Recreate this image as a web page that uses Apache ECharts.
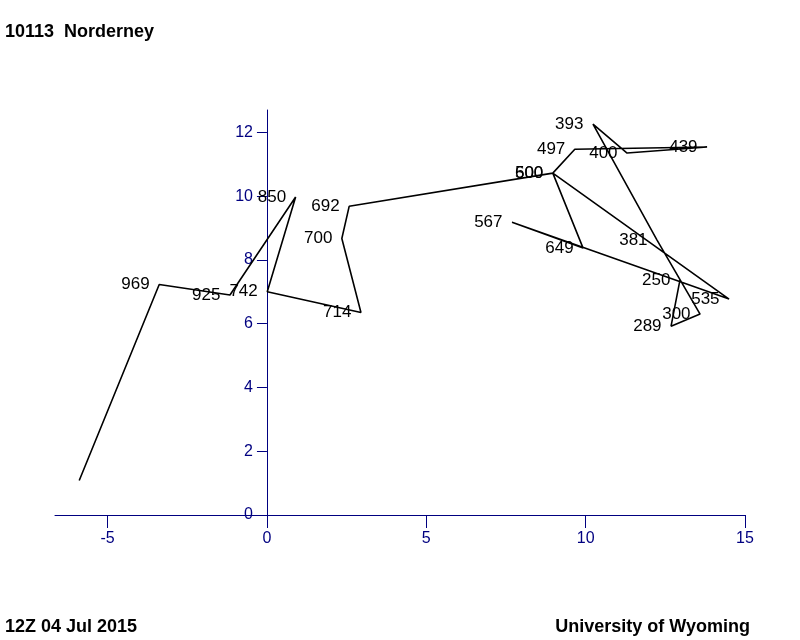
<!DOCTYPE html>
<html>
<head>
<meta charset="utf-8">
<script src="https://cdn.jsdelivr.net/npm/echarts@6/dist/echarts.min.js"></script>
<style>html,body{margin:0;padding:0;background:#fff}#c{width:800px;height:640px}</style>
</head>
<body>
<div id="c"></div>
<script>
// Hodograph points in path order (u, v in m/s) and their pressure labels
var pressureLabels = ['', '969', '925', '850', '742', '714', '700', '692', '600', '649', '567', '535', '500', '497', '439', '400', '393', '381', '300', '289', '250'];
var uValues = [-5.89, -3.38, -1.16, 0.90, 0.01, 2.95, 2.35, 2.58, 8.97, 9.92, 7.69, 14.50, 8.97, 9.66, 13.81, 11.30, 10.23, 12.24, 13.59, 12.68, 12.96];
var vValues = [1.08, 7.23, 6.90, 9.97, 7.00, 6.35, 8.67, 9.68, 10.72, 8.37, 9.18, 6.77, 10.72, 11.47, 11.54, 11.35, 12.26, 8.62, 6.30, 5.92, 7.37];
var xTicks = [-5, 0, 5, 10, 15];
var yTicks = [0, 2, 4, 6, 8, 10, 12];

var data = [];
for (var i = 0; i < uValues.length; i++) {
  data.push([uValues[i], vValues[i], pressureLabels[i]]);
}

var navy = '#000080';
var font = 'Liberation Sans, Arial, Helvetica, sans-serif';
var gridLeft = 55;
var chart = echarts.init(document.getElementById('c'), null, {renderer: 'canvas'});
chart.setOption({
  animation: false,
  backgroundColor: '#ffffff',
  title: [
    {text: '10113  Norderney', left: 5, top: 23, padding: 0, textStyle: {fontFamily: font, fontSize: 18, fontWeight: 'bold', color: '#000'}},
    {text: '12Z 04 Jul 2015', left: 5, top: 618, padding: 0, textStyle: {fontFamily: font, fontSize: 18, fontWeight: 'bold', color: '#000'}},
    {text: 'University of Wyoming', right: 50, top: 618, padding: 0, textStyle: {fontFamily: font, fontSize: 18, fontWeight: 'bold', color: '#000'}}
  ],
  grid: {left: gridLeft, right: 55, top: 110, bottom: 125, containLabel: false},
  xAxis: {
    type: 'value',
    min: -6.65,
    max: 15,
    splitLine: {show: false},
    axisLine: {show: true, onZero: true, lineStyle: {color: navy, width: 1}},
    axisTick: {show: true, length: 13, customValues: xTicks, lineStyle: {color: navy, width: 1}},
    axisLabel: {show: true, customValues: xTicks, margin: 16, color: navy, fontFamily: font, fontSize: 16}
  },
  yAxis: {
    type: 'value',
    min: 0,
    max: 12.7,
    offset: 0,
    splitLine: {show: false},
    axisLine: {show: true, onZero: false, lineStyle: {color: navy, width: 1}},
    axisTick: {show: true, length: 10, customValues: yTicks, lineStyle: {color: navy, width: 1}},
    axisLabel: {show: true, customValues: yTicks, margin: 14, color: navy, fontFamily: font, fontSize: 16}
  },
  series: [{
    type: 'line',
    data: data,
    showSymbol: true,
    symbol: 'circle',
    symbolSize: 1,
    itemStyle: {color: 'rgba(0,0,0,0)'},
    lineStyle: {color: '#000', width: 1.6},
    label: {
      show: true,
      position: 'left',
      distance: 9,
      color: '#000',
      fontFamily: font,
      fontSize: 17,
      formatter: function (p) { return p.data[2]; }
    },
    labelLayout: {hideOverlap: false},
    emphasis: {disabled: true}
  }]
});
// Move the y axis (line, ticks and labels) to u = 0 using the library's own scale
var zeroPx = chart.convertToPixel({xAxisIndex: 0}, 0);
chart.setOption({yAxis: {offset: -(zeroPx - gridLeft)}});
</script>
</body>
</html>
